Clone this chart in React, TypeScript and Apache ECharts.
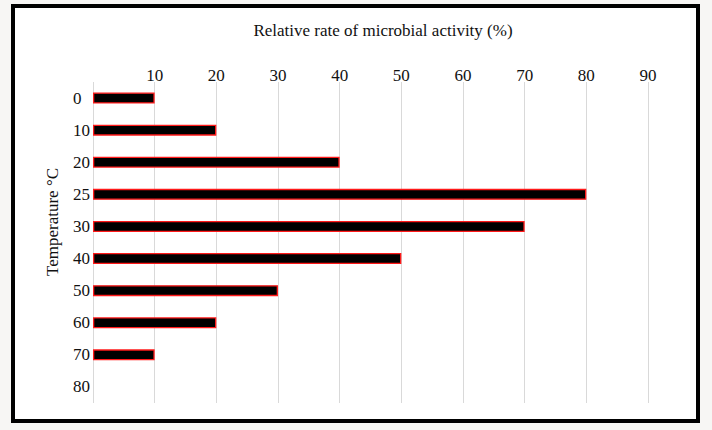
import React, { useEffect, useRef } from "react";
import * as echarts from "echarts";

const temperatures = ["0", "10", "20", "25", "30", "40", "50", "60", "70", "80"];
const activity = [10, 20, 40, 80, 70, 50, 30, 20, 10, 0];
const xTicks = [0, 10, 20, 30, 40, 50, 60, 70, 80, 90];

const FONT = "'Liberation Serif', 'Times New Roman', serif";

export default function App() {
  const ref = useRef<HTMLDivElement>(null);
  useEffect(() => {
    if (!ref.current) return;
    const chart = echarts.init(ref.current, null, { renderer: "svg" });
    chart.setOption({
      animation: false,
      backgroundColor: "#f7f6f4",
      graphic: [
        {
          type: "rect",
          z: -10,
          silent: true,
          shape: { x: 13, y: 6, width: 685, height: 415 },
          style: { fill: "#ffffff", stroke: "#000000", lineWidth: 4 },
        },
        {
          type: "text",
          x: 383,
          y: 30,
          style: {
            text: "Relative rate of microbial activity (%)",
            font: `17px ${FONT}`,
            fill: "#111",
            align: "center",
            verticalAlign: "middle",
          },
        },
        {
          type: "text",
          x: 52,
          y: 222,
          rotation: Math.PI / 2,
          style: {
            text: "Temperature °C",
            font: `17px ${FONT}`,
            fill: "#111",
            align: "center",
            verticalAlign: "middle",
          },
        },
      ],
      grid: { left: 93, right: 64, top: 82, bottom: 27 },
      xAxis: {
        type: "value",
        position: "top",
        min: xTicks[0],
        max: xTicks[xTicks.length - 1],
        interval: 10,
        axisLine: { show: false },
        axisTick: { show: false },
        axisLabel: {
          showMinLabel: false,
          color: "#111",
          fontFamily: FONT,
          fontSize: 17,
          margin: -2,
        },
        splitLine: { show: true, lineStyle: { color: "#d9d9d9", width: 1 } },
      },
      yAxis: {
        type: "category",
        inverse: true,
        data: temperatures,
        axisLine: { show: false },
        axisTick: { show: false },
        axisLabel: {
          color: "#111",
          fontFamily: FONT,
          fontSize: 17,
          margin: 20,
          align: "left",
        },
      },
      series: [
        {
          type: "bar",
          data: activity.map((v) => (v === 0 ? "-" : v)),
          barWidth: 11,
          itemStyle: { color: "#000000", borderColor: "#ff1a1a", borderWidth: 1.3 },
        },
      ],
    });
    return () => chart.dispose();
  }, []);
  return (
    <div
      ref={ref}
      style={{ position: "absolute", left: 0, top: 0, width: 712, height: 430 }}
    />
  );
}
